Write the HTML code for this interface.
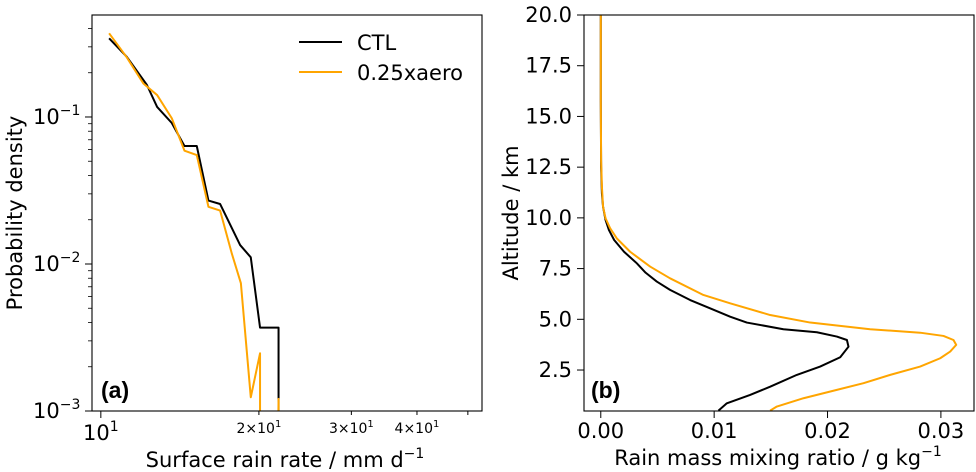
<!DOCTYPE html>
<html><head><meta charset="utf-8">
<style>
html,body{margin:0;padding:0;background:#fff;overflow:hidden;width:976px;height:472px;}
svg{display:block;font-family:"DejaVu Sans","Liberation Sans",sans-serif;overflow:hidden;}
</style></head>
<body>
<svg id="fig" width="976" height="472" viewBox="0 0 976 472" xmlns="http://www.w3.org/2000/svg">
<g id="pa"></g>
<g id="pb"></g>
</svg>
<script>
// Panel (a) data
const rateCTL = [10.37, 11.2, 12.24, 12.8, 13.65, 14.43, 15.23, 16.03, 16.87, 18.42, 19.3, 20.1, 21.8, 21.81];
const pdfCTL  = [0.343, 0.257, 0.165, 0.117, 0.091, 0.0635, 0.0635, 0.027, 0.0256, 0.01345, 0.0111, 0.00369, 0.00369, 0];
const rateAero = [10.37, 11.2, 12.05, 12.8, 13.65, 14.43, 15.23, 16.03, 16.87, 17.77, 18.48, 19.3, 20.1, 20.11, 21.8, 21.81];
const pdfAero  = [0.371, 0.255, 0.169, 0.141, 0.098, 0.059, 0.0551, 0.0245, 0.0231, 0.0117, 0.0074, 0.00124, 0.00247, 0, 0.00121, 0];
const xTicksA = [10, 20, 30, 40];
const xTickLabelsA = [["10","1",true], ["2×10","1",false], ["3×10","1",false], ["4×10","1",false]];
const yTicksA = [0.1, 0.01, 0.001];
const yTickExpA = ["−1", "−2", "−3"];
// Panel (b) data
const altCTL = [0.50,0.86,1.27,1.68,2.26,2.67,3.13,3.65,3.98,4.15,4.36,4.51,4.84,5.13,5.54,5.95,6.45,6.86,7.3,7.76,8.33,8.91,9.40,9.90,10.55,11.21,12.52,15.81,20];
const qrCTL  = [0.01038,0.01112,0.01317,0.01494,0.01729,0.01935,0.02112,0.02185,0.02171,0.02082,0.01906,0.01611,0.01288,0.01141,0.00964,0.00788,0.00611,0.00494,0.00395,0.00318,0.00205,0.00118,0.00072,0.00042,0.0002,0.0001,0.00003,0,0];
const altAero = [0.50,0.70,1.11,1.52,1.85,2.26,2.67,3.08,3.41,3.74,3.98,4.18,4.34,4.51,4.84,5.21,5.79,6.20,7.02,7.60,8.33,8.99,9.49,9.98,10.55,11.54,12.85,15.81,20];
const qrAero  = [0.01494,0.01553,0.01788,0.02082,0.02317,0.02553,0.02817,0.02994,0.03082,0.03135,0.03111,0.03023,0.02817,0.02376,0.01847,0.01494,0.01141,0.00905,0.00611,0.00435,0.00259,0.00141,0.00082,0.00042,0.0002,0.0001,0.00003,0,0];
const xTicksB = [0, 0.01, 0.02, 0.03];
const yTicksB = [2.5, 5, 7.5, 10, 12.5, 15, 17.5, 20];

const NS = "http://www.w3.org/2000/svg";
function mk(parent, tag, attrs, text){
  const e = document.createElementNS(NS, tag);
  for (const k in attrs) e.setAttribute(k, attrs[k]);
  if (text !== undefined) e.textContent = text;
  parent.appendChild(e); return e;
}
const ORANGE = "#ffa500";

// ---------- Panel A ----------
const A = {x0:92, x1:482, y0:15, y1:411, lxmin:Math.log10(9.62), lxmax:Math.log10(53.2), lymin:-3, lymax:Math.log10(0.494)};
function axA(v){ return A.x0 + (Math.log10(v)-A.lxmin)/(A.lxmax-A.lxmin)*(A.x1-A.x0); }
function ayA(v){ const l = v>0?Math.log10(v):-40; return A.y1 - (l-A.lymin)/(A.lymax-A.lymin)*(A.y1-A.y0); }
const pa = document.getElementById('pa');
mk(pa,'clipPath',{id:'clipA'}).appendChild((()=>{const r=document.createElementNS(NS,'rect');r.setAttribute('x',A.x0);r.setAttribute('y',A.y0);r.setAttribute('width',A.x1-A.x0);r.setAttribute('height',A.y1-A.y0);return r;})());
function lineA(xs, ys, color, name){
  const pts = xs.map((x,i)=>axA(x).toFixed(2)+','+Math.min(ayA(ys[i]), 2000).toFixed(2)).join(' ');
  const p = mk(pa,'polyline',{points:pts, fill:'none', stroke:color, 'stroke-width':2, 'clip-path':'url(#clipA)', 'stroke-linejoin':'round'});
  
  
}
lineA(rateCTL, pdfCTL, '#000', 'ctl-line');
lineA(rateAero, pdfAero, ORANGE, 'aero-line');
mk(pa,'rect',{x:A.x0,y:A.y0,width:A.x1-A.x0,height:A.y1-A.y0,fill:'none',stroke:'#000','stroke-width':1.1,});
xTicksA.forEach((t,i)=>{
  const x = axA(t);
  const major = i===0;
  mk(pa,'line',{x1:x,x2:x,y1:A.y1,y2:A.y1+(major?7:4),stroke:'#000','stroke-width':1});
  const lab = xTickLabelsA[i];
  const g = mk(pa,'text',{x:x, y: major?440:433, 'text-anchor':'middle','font-size':major?21:14, fill:'#000'});
  
  
  mk(g,'tspan',{},lab[0]);
  mk(g,'tspan',{dy: major?-9:-6,'font-size':major?14:10},lab[1]);
});
[5].forEach(t=>{const x=axA(t*10);mk(pa,'line',{x1:x,x2:x,y1:A.y1,y2:A.y1+4,stroke:'#000','stroke-width':1});});
yTicksA.forEach((t,i)=>{
  const y = ayA(t);
  mk(pa,'line',{x1:A.x0-7,x2:A.x0,y1:y,y2:y,stroke:'#000','stroke-width':1});
  const g = mk(pa,'text',{x:33, y:y+7, 'font-size':21, fill:'#000'});
  
  
  mk(g,'tspan',{},'10');
  mk(g,'tspan',{dy:-9,'font-size':14},yTickExpA[i]);
});
for (let d=-3; d<0; d++) for (let m=2; m<10; m++){
  const v = m*Math.pow(10,d); const y=ayA(v);
  if (y>=A.y0) mk(pa,'line',{x1:A.x0-4,x2:A.x0,y1:y,y2:y,stroke:'#000','stroke-width':0.8});
}
mk(pa,'text',{x:285,y:467,'text-anchor':'middle','font-size':21,}).innerHTML='Surface rain rate / mm d<tspan dy="-9" font-size="14">−1</tspan>';
mk(pa,'text',{x:0,y:0,transform:'translate(22,213) rotate(-90)','text-anchor':'middle','font-size':21,},'Probability density');
mk(pa,'text',{x:101,y:398,'font-size':23,'font-weight':'bold','font-family':'"Liberation Sans",sans-serif',},'(a)');
const lg = mk(pa,'g',{});
mk(lg,'line',{x1:299,x2:342,y1:42,y2:42,stroke:'#000','stroke-width':2,});
mk(lg,'text',{x:357,y:50,'font-size':21,},'CTL');
mk(lg,'line',{x1:299,x2:342,y1:72,y2:72,stroke:ORANGE,'stroke-width':2,});
mk(lg,'text',{x:357,y:80,'font-size':21,},'0.25xaero');

// ---------- Panel B ----------
const B = {x0:584, x1:974, y0:15, y1:411, xmin:-0.00148, xmax:0.03292, ymin:0.48, ymax:20};
function axB(v){ return B.x0 + (v-B.xmin)/(B.xmax-B.xmin)*(B.x1-B.x0); }
function ayB(v){ return B.y1 - (v-B.ymin)/(B.ymax-B.ymin)*(B.y1-B.y0); }
const pb = document.getElementById('pb');
mk(pb,'clipPath',{id:'clipB'}).appendChild((()=>{const r=document.createElementNS(NS,'rect');r.setAttribute('x',B.x0);r.setAttribute('y',B.y0);r.setAttribute('width',B.x1-B.x0);r.setAttribute('height',B.y1-B.y0);return r;})());
function lineB(xs, ys, color, name){
  const pts = xs.map((x,i)=>axB(x).toFixed(2)+','+ayB(ys[i]).toFixed(2)).join(' ');
  const p = mk(pb,'polyline',{points:pts, fill:'none', stroke:color, 'stroke-width':2, 'clip-path':'url(#clipB)', 'stroke-linejoin':'round'});
  
  
}
lineB(qrCTL, altCTL, '#000', 'ctl-profile');
lineB(qrAero, altAero, ORANGE, 'aero-profile');
mk(pb,'rect',{x:B.x0,y:B.y0,width:B.x1-B.x0,height:B.y1-B.y0,fill:'none',stroke:'#000','stroke-width':1.1,});
xTicksB.forEach(t=>{
  const x=axB(t);
  mk(pb,'line',{x1:x,x2:x,y1:B.y1,y2:B.y1+7,stroke:'#000','stroke-width':1});
  const e = mk(pb,'text',{x:x,y:438,'text-anchor':'middle','font-size':21},t.toFixed(2));
  
  
});
yTicksB.forEach(t=>{
  const y=ayB(t);
  mk(pb,'line',{x1:B.x0-7,x2:B.x0,y1:y,y2:y,stroke:'#000','stroke-width':1});
  const e = mk(pb,'text',{x:572,y:y+7,'text-anchor':'end','font-size':21},t.toFixed(1));
  
  
});
mk(pb,'text',{x:778,y:465,'text-anchor':'middle','font-size':21,}).innerHTML='Rain mass mixing ratio / g kg<tspan dy="-9" font-size="14">−1</tspan>';
mk(pb,'text',{x:0,y:0,transform:'translate(518,213) rotate(-90)','text-anchor':'middle','font-size':21,},'Altitude / km');
mk(pb,'text',{x:591,y:398,'font-size':23,'font-weight':'bold','font-family':'"Liberation Sans",sans-serif',},'(b)');
</script>
</body></html>
